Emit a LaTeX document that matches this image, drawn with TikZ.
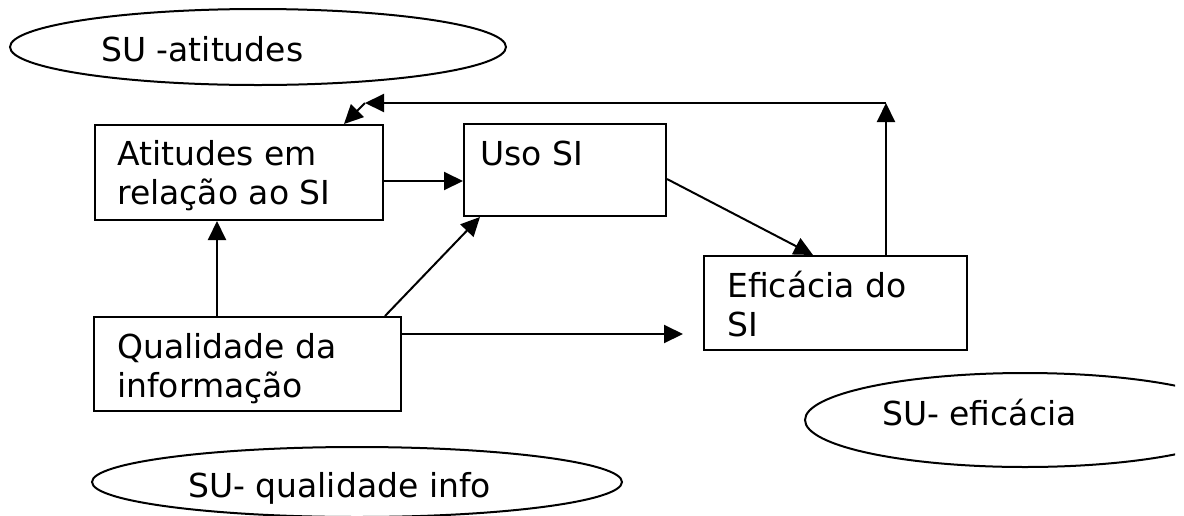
\documentclass[tikz,border=0pt]{standalone}
\usepackage{fontspec}
\setmainfont{DejaVu Sans}
\usetikzlibrary{arrows.meta,shapes.geometric,calc}
\begin{document}
\begin{tikzpicture}[x=1pt,y=-1pt,
  box/.style={draw, line width=2pt, rectangle, inner sep=0pt, anchor=north west},
  txt/.style={inner sep=0pt, anchor=north west, align=left, font=\fontsize{33}{39}\selectfont},
  oval/.style={draw, line width=2pt, ellipse, inner sep=0pt},
  arr/.style={line width=2pt, -{Triangle[length=19pt,width=18pt]}}]
  \useasboundingbox (0,0) rectangle (1184,515);
  \fill[white] (0,0) rectangle (1184,515);

  % ovals
  \node[oval, minimum width=496pt, minimum height=76pt] (ovatt) at (258,47) {};
  \node[txt] (ovatttxt) at (101,33.7) {\strut SU -atitudes};
  \begin{scope}
    \clip (0,0) rectangle (1184,515);
    \node[oval, minimum width=530pt, minimum height=70pt] (ovqual) at (357,482) {};
  \end{scope}
  \node[txt] (ovqualtxt) at (188,469.7) {\strut SU- qualidade info};
  \begin{scope}
    \clip (0,0) rectangle (1175,515);
    \node[oval, minimum width=440pt, minimum height=94pt] (oveff) at (1025,420) {};
  \end{scope}
  \node[txt] (oveffstxt) at (882,397.7) {\strut SU- eficácia};

  % boxes
  \node[box, minimum width=288pt, minimum height=95pt] (att) at (94,124) {};
  \node[box, minimum width=202pt, minimum height=92pt] (uso) at (463,123) {};
  \node[box, minimum width=307pt, minimum height=94pt] (qual) at (93,316) {};
  \node[box, minimum width=263pt, minimum height=94pt] (eff) at (703,255) {};

  \node[txt] (atttxt) at (117,137.7) {\strut Atitudes em\\relação ao SI};
  \node[txt] (usotxt) at (480,137.7) {\strut Uso SI};
  \node[txt] (qualtxt) at (117,330.7) {\strut Qualidade da\\informação};
  \node[txt] (efftxt) at (727,269.7) {\strut Eficácia do\\SI};

  % connectors
  \draw[arr] ([yshift=-8.5pt]att.east) -- ([yshift=-8.5pt]att.east -| uso.west);
  \coordinate (q1) at ($(qual.north west)+(124,0)$);
  \draw[arr] (q1) -- (q1 |- att.south);
  \draw[arr] ($(qual.north east)+(-17,0)$) -- ($(uso.south west)+(17,0)$);
  \draw[arr] ([yshift=30pt]qual.east) -- ([xshift=-20pt,yshift=30pt]qual.east -| eff.west);
  \draw[arr] ([yshift=-9pt]uso.east) -- ($(eff.north west)+(110,0)$);

  % feedback loop
  \coordinate (fb1) at ($(eff.north)+(50.5,-152)$);
  \coordinate (fb2) at ($(att.north east)+(-19,0)$);
  \draw[arr] (eff.north -| fb1) -- (fb1);
  \draw[arr] (fb1) -- (fb1 -| fb2);
  \draw[arr] (fb1 -| fb2) -- ($(att.north east)+(-40,0)$);
\end{tikzpicture}
\end{document}
